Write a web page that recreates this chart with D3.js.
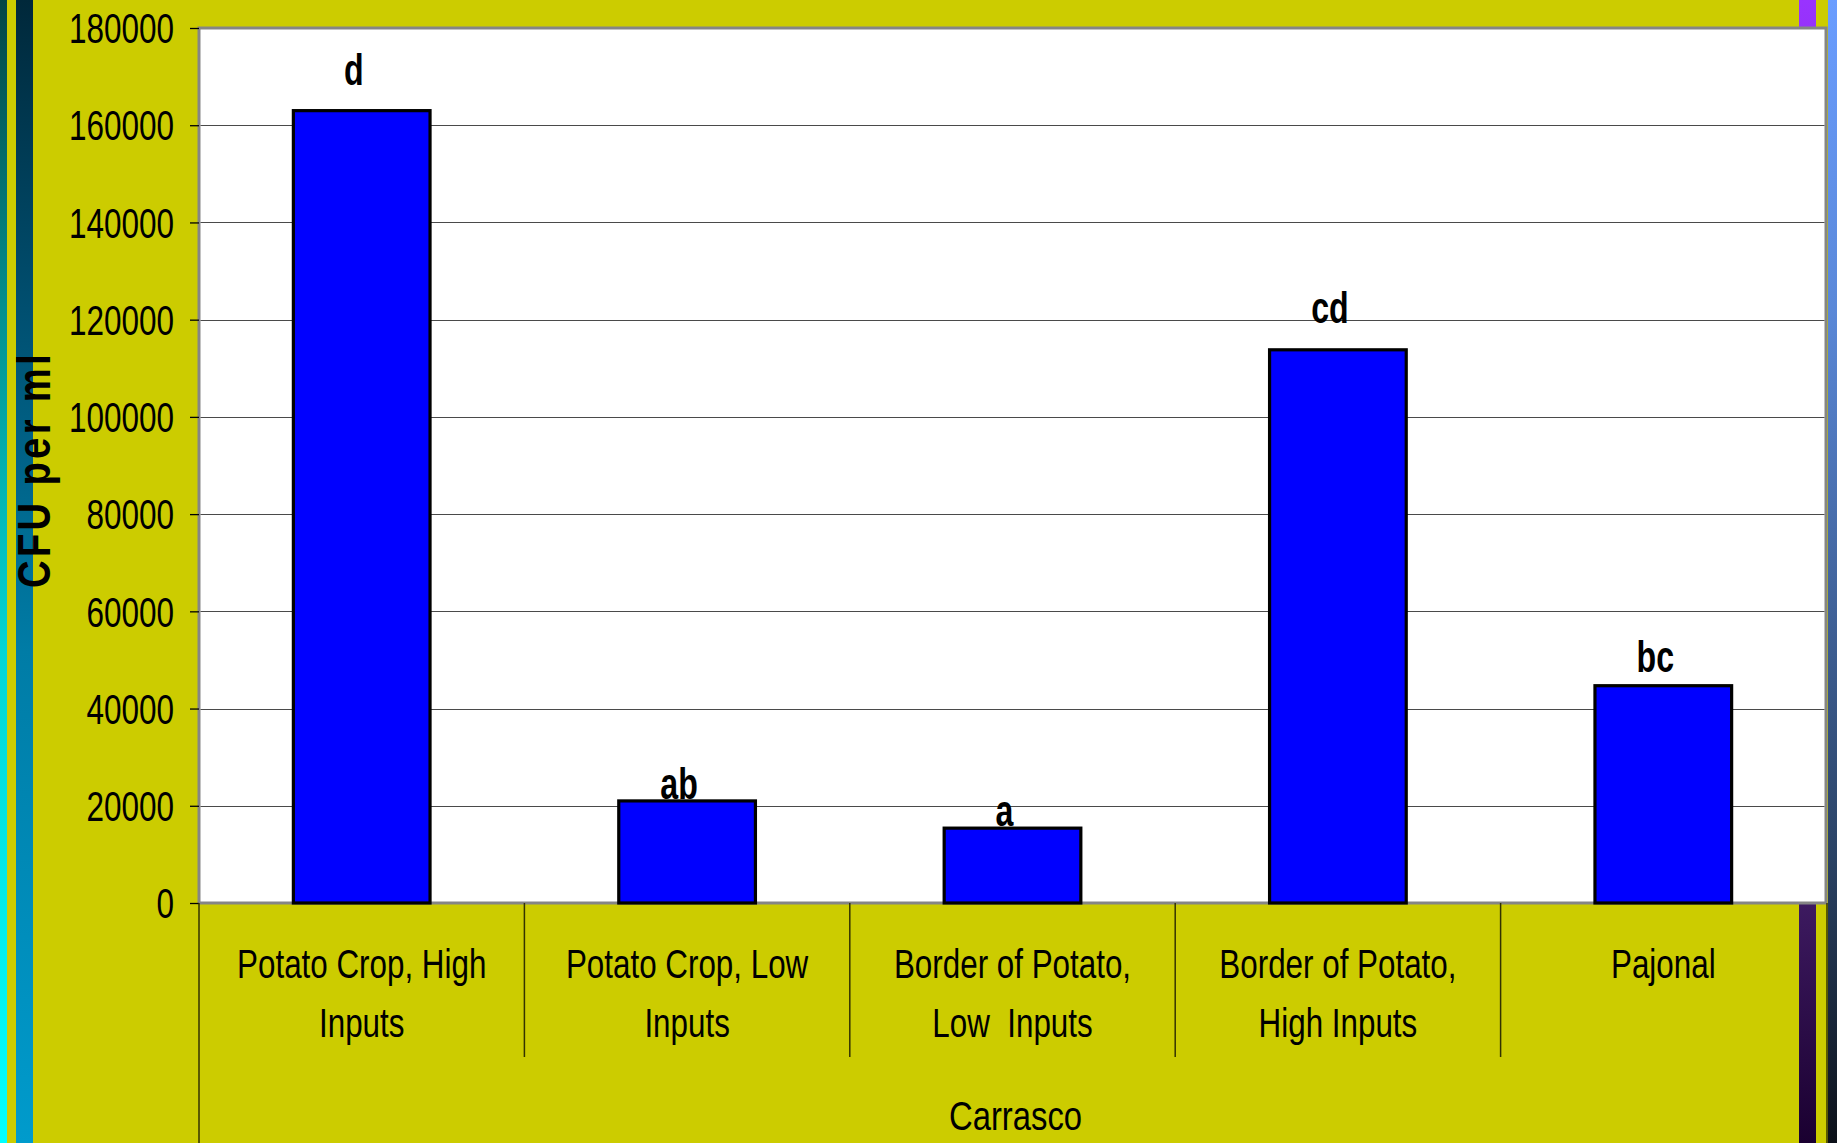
<!DOCTYPE html>
<html>
<head>
<meta charset="utf-8">
<script src="https://cdn.jsdelivr.net/npm/d3@7"></script>
<style>
  html, body { margin: 0; padding: 0; background: #cccc00; overflow: hidden; }
  svg { display: block; }
  text { font-family: "Liberation Sans", Arial, sans-serif; }
</style>
</head>
<body>
<svg id="chart" width="1837" height="1143"></svg>
<script>
// CFU counts per site, Carrasco
const categories = [
  "Potato Crop, High\nInputs",
  "Potato Crop, Low\nInputs",
  "Border of Potato,\nLow  Inputs",
  "Border of Potato,\nHigh Inputs",
  "Pajonal"
];
const cfuValues = [163000, 21000, 15400, 113800, 44700];
// upper reach of the (undrawn) error bars, used to seat the letters
const errorMargins = [4850, 0, 0, 5100, 2400];
const groupLetters = ["d", "ab", "a", "cd", "bc"];
const yTicks = [0, 20000, 40000, 60000, 80000, 100000, 120000, 140000, 160000, 180000];
const yTitle = "CFU per ml";
const siteLabel = "Carrasco";

const W = 1837, H = 1143;
const plot = { left: 199, right: 1826, top: 28, bottom: 903 };
const NARROW = 0.75; // condensed lettering

const svg = d3.select("#chart");
const defs = svg.append("defs");

function vGrad(id, stops) {
  const g = defs.append("linearGradient").attr("id", id)
    .attr("x1", 0).attr("y1", 0).attr("x2", 0).attr("y2", 1);
  stops.forEach(([o, c]) => g.append("stop").attr("offset", o).attr("stop-color", c));
}
vGrad("gCyan", [[0, "#004545"], [0.27, "#008f8f"], [0.57, "#00d5d5"], [1, "#00ffff"]]);
vGrad("gTeal", [[0, "#00283a"], [0.27, "#004f70"], [0.57, "#007ca6"], [1, "#009bcc"]]);
vGrad("gPurple", [[0, "#9933ff"], [0.79, "#3d1a60"], [1, "#1a0030"]]);
vGrad("gBlue", [[0, "#6a9dff"], [0.27, "#5a88d8"], [0.75, "#2a4264"], [1, "#0c1018"]]);

// slide background and decorative stripes
svg.append("rect").attr("width", W).attr("height", H).attr("fill", "#cccc00");
svg.append("rect").attr("x", 0).attr("y", 0).attr("width", 7).attr("height", H).attr("fill", "url(#gCyan)");
svg.append("rect").attr("x", 16).attr("y", 0).attr("width", 17).attr("height", H).attr("fill", "url(#gTeal)");
svg.append("rect").attr("x", 1799).attr("y", 0).attr("width", 17).attr("height", H).attr("fill", "url(#gPurple)");
svg.append("rect").attr("x", 1828).attr("y", 0).attr("width", 9).attr("height", H).attr("fill", "url(#gBlue)");

// scales
const x = d3.scaleBand().domain(categories)
  .range([plot.left, plot.right]).paddingInner(0.58).paddingOuter(0.29);
const xCat = d3.scaleBand().domain(categories).range([plot.left, plot.right]);
const y = d3.scaleLinear().domain([0, 180000]).range([plot.bottom, plot.top]);

// plot area
svg.append("rect")
  .attr("x", plot.left).attr("y", plot.top)
  .attr("width", plot.right - plot.left).attr("height", plot.bottom - plot.top)
  .attr("fill", "#ffffff").attr("stroke", "#858585").attr("stroke-width", 3);

// gridlines
svg.append("g").selectAll("line")
  .data(yTicks.filter(t => t > 0 && t < 180000))
  .join("line")
  .attr("x1", plot.left + 1.5).attr("x2", plot.right - 1.5)
  .attr("y1", d => Math.round(y(d)) + 0.5).attr("y2", d => Math.round(y(d)) + 0.5)
  .attr("stroke", "#4a4a4a").attr("stroke-width", 1);

// y axis
const tickGap = 25;
const yAxis = svg.append("g")
  .attr("transform", `translate(${plot.left},0)`)
  .call(d3.axisLeft(y).tickValues(yTicks).tickFormat(d3.format("d")).tickSize(9).tickPadding(16));
yAxis.select(".domain").remove();
yAxis.selectAll(".tick line").attr("stroke", "#000").attr("stroke-width", 1.3);
yAxis.selectAll(".tick text")
  .attr("font-size", 42).attr("fill", "#000")
  .attr("x", -tickGap / NARROW).attr("dy", "0.35em")
  .attr("transform", `scale(${NARROW},1)`);

// bars
svg.append("g").selectAll("rect")
  .data(categories)
  .join("rect")
  .attr("x", d => x(d))
  .attr("width", x.bandwidth())
  .attr("y", (d, i) => y(cfuValues[i]))
  .attr("height", (d, i) => y(0) - y(cfuValues[i]))
  .attr("fill", "#0000ff").attr("stroke", "#000").attr("stroke-width", 3.2);

// group letters, set slightly left of the bar centre
svg.append("g").selectAll("text")
  .data(categories)
  .join("text")
  .attr("transform", (d, i) =>
    `translate(${x(d) + x.bandwidth() / 2 - 8},${y(cfuValues[i] + errorMargins[i]) - 2}) scale(0.73,1)`)
  .attr("text-anchor", "middle")
  .attr("font-size", 44).attr("font-weight", "bold").attr("fill", "#000")
  .text((d, i) => groupLetters[i]);

// category axis below the plot
const baseLine = svg.append("g");
baseLine.append("line")
  .attr("x1", plot.left).attr("x2", plot.left).attr("y1", plot.bottom).attr("y2", H)
  .attr("stroke", "#333300").attr("stroke-width", 1.5);
baseLine.append("line")
  .attr("x1", plot.right + 1).attr("x2", plot.right + 1).attr("y1", plot.bottom).attr("y2", H)
  .attr("stroke", "#333300").attr("stroke-width", 1.5);
baseLine.selectAll("line.sep")
  .data(categories.slice(1))
  .join("line").attr("class", "sep")
  .attr("x1", d => xCat(d)).attr("x2", d => xCat(d))
  .attr("y1", plot.bottom).attr("y2", 1057)
  .attr("stroke", "#333300").attr("stroke-width", 1.5);

const catText = svg.append("g").selectAll("text")
  .data(categories)
  .join("text")
  .attr("transform", d => `translate(${xCat(d) + xCat.bandwidth() / 2},978) scale(0.765,1)`)
  .attr("text-anchor", "middle")
  .attr("font-size", 41).attr("fill", "#000")
  .attr("xml:space", "preserve");
catText.selectAll("tspan")
  .data(d => d.split("\n"))
  .join("tspan")
  .attr("x", 0)
  .attr("dy", (d, i) => i === 0 ? 0 : 59)
  .text(d => d);

svg.append("text")
  .attr("transform", `translate(${(plot.left + plot.right) / 2 + 3},1130) scale(0.8,1)`)
  .attr("text-anchor", "middle")
  .attr("font-size", 41).attr("fill", "#000")
  .text(siteLabel);

// y axis title
svg.append("text")
  .attr("transform", `translate(50,${(plot.top + plot.bottom) / 2 + 4}) rotate(-90) scale(0.83,1)`)
  .attr("text-anchor", "middle")
  .attr("font-size", 46).attr("font-weight", "bold").attr("letter-spacing", 4)
  .attr("fill", "#000")
  .text(yTitle);
</script>
</body>
</html>
